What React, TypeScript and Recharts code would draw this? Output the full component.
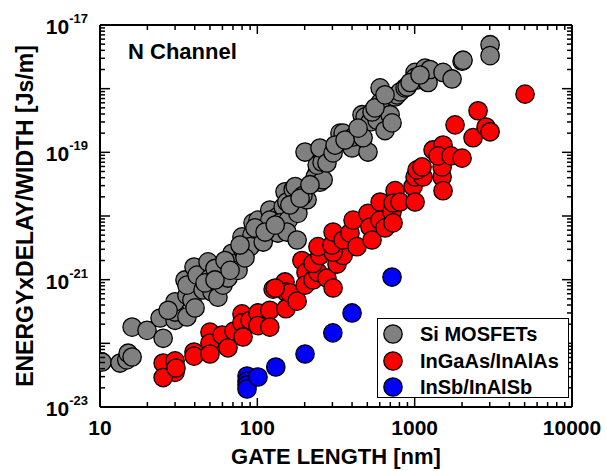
import React from 'react';
import { ScatterChart, Scatter, XAxis, YAxis, Legend, Customized } from 'recharts';

// ---- Data (gate length in nm, energy x delay / width in Js/m) ----
const siLength = [
  10.3, 13.4, 14.8, 15.1, 16.0, 16.0, 19.9, 24.1, 25.2, 30.0, 30.0, 30.0, 27.1, 34.7, 35.7, 35.7,
  38.4, 40.2, 39.6, 35.7, 41.4, 45.2, 48.6, 50.0, 51.5, 56.2, 57.9, 60.5, 65.1, 53.8, 69.0, 72.2,
  62.3, 79.9, 87.3, 81.1, 75.4, 93.9, 92.5, 101, 107, 115, 89.9, 109, 120, 133, 135, 120, 146, 139,
  157, 154, 150, 154, 169, 174, 181, 181, 207, 195, 179, 240, 250, 233, 262, 240, 258, 201, 250, 277,
  303, 335, 351, 400, 406, 463, 484, 505, 520, 470, 577, 603, 603, 648, 698, 718, 751, 773, 807, 869,
  895, 1006, 1006, 1036, 1164, 1199, 1217, 1252, 1515, 1729, 2001, 2030, 3015, 3015,
  46.5, 53.8, 67.1, 83.5, 77.6, 96.7, 112, 130, 161, 187, 216, 312, 361, 437, 536, 560, 648, 935, 1082,
];
const siEdw = [
  5.1e-23, 4.9e-23, 5.5e-23, 7.0e-23, 6.1e-23, 1.8e-22, 1.6e-22, 2.5e-22, 1.2e-22, 2.3e-22, 3.1e-22, 4.5e-22, 3.3e-22, 9.9e-22, 2.6e-22, 5.7e-22,
  4.8e-22, 3.6e-22, 1.58e-21, 8.2e-22, 1.18e-21, 6.9e-22, 1.9e-21, 1.06e-21, 6.4e-22, 5.3e-22, 1.27e-21, 8.2e-22, 1.06e-21, 1.5e-21, 2.6e-21, 1.8e-21,
  2.0e-21, 4.7e-21, 3.3e-21, 2.9e-21, 1.4e-21, 7.8e-21, 5.0e-21, 8.6e-21, 4.7e-21, 6.7e-21, 3.3e-21, 3.9e-21, 1.24e-20, 9.6e-21, 5.4e-21, 8.6e-21, 1.39e-20, 7.8e-21,
  8.6e-21, 5.6e-21, 2.4e-20, 1.66e-20, 2.6e-20, 2.9e-20, 1.39e-20, 1.1e-20, 1.8e-20, 2.1e-20, 4.2e-21, 4.9e-20, 3.4e-20, 4.1e-20, 3.7e-20, 6.3e-20, 7.0e-20, 1.01e-19, 1.17e-19, 6.8e-20,
  9.8e-20, 2.0e-19, 2.0e-19, 1.17e-19, 1.74e-19, 3.9e-19, 3.6e-19, 1.01e-19, 3.0e-19, 1.7e-19, 3.2e-19, 1.03e-18, 6.0e-19, 2.2e-19, 3.9e-19, 2.9e-19, 7.4e-19, 8.0e-19, 8.9e-19, 1.03e-18,
  1.06e-18, 1.8e-18, 1.5e-18, 1.37e-18, 2.1e-18, 1.27e-18, 1.25e-18, 2.0e-18, 1.8e-18, 1.42e-18, 2.7e-18, 2.8e-18, 4.9e-18, 3.3e-18,
  8.9e-22, 9.9e-22, 1.4e-21, 2.2e-21, 3.5e-21, 6.5e-21, 5.6e-21, 7.2e-21, 1.49e-20, 1.9e-20, 3.1e-20, 1.3e-19, 1.56e-19, 2.4e-19, 4.3e-19, 5.0e-19, 8.0e-19, 1.25e-18, 1.64e-18,
];

const ingaasLength = [
  25.2, 30.0, 30.0, 25.2, 30.4, 39.6, 39.6, 50.0, 50.0, 50.0, 59.7, 65.1, 71.1, 79.9, 79.9, 89.9,
  81.1, 101, 101, 120, 120, 126, 150, 152, 152, 161, 179, 130, 192, 204, 201, 226, 243, 226, 250, 277,
  303, 321, 351, 303, 243, 298, 303, 351, 388, 406, 430, 505, 520, 536, 603, 603, 648, 718, 729, 751,
  729, 807, 977, 1006, 1006, 1130, 1494, 1515, 1036, 1114, 1494, 1309, 1515, 1408, 1703, 2001, 1806, 2350,
  2529, 2843, 3015, 5030,
];
const ingaasEdw = [
  4.9e-23, 5.3e-23, 3.5e-23, 2.9e-23, 4.1e-23, 7.3e-23, 6.3e-23, 1.5e-22, 1.01e-22, 6.8e-23, 1.35e-22, 8.5e-23, 1.56e-22, 2.9e-22, 2.1e-22, 2.3e-22,
  1.26e-22, 3.0e-22, 1.9e-22, 3.3e-22, 1.8e-22, 7.1e-22, 9.2e-22, 6.4e-22, 3.5e-22, 6.2e-22, 4.6e-22, 7.4e-22, 2.0e-21, 1.3e-21, 8.2e-22, 9.9e-22, 1.3e-21, 1.8e-21, 2.4e-21, 1.06e-21,
  7.4e-22, 1.76e-21, 2.4e-21, 2.7e-21, 3.3e-21, 3.5e-21, 5.6e-21, 4.2e-21, 5.4e-21, 8.6e-21, 3.3e-21, 1.1e-20, 6.7e-21, 4.2e-21, 8.6e-21, 1.66e-20, 6.5e-21, 1.16e-20, 7.8e-21, 2.5e-20,
  1.6e-20, 1.66e-20, 2.9e-20, 1.66e-20, 4.1e-20, 4.1e-20, 4.1e-20, 2.5e-20, 5.3e-20, 5.9e-20, 5.9e-20, 1.09e-19, 1.3e-19, 8.8e-20, 8.8e-20, 8.1e-20, 2.7e-19, 1.7e-19,
  4.5e-19, 2.5e-19, 2.1e-19, 8.2e-19,
];

const insbLength = [86, 86, 86, 86, 101, 131, 201, 302, 400, 718];
const insbEdw = [3.07e-23, 2.56e-23, 2.22e-23, 1.92e-23, 2.96e-23, 4.25e-23, 6.8e-23, 1.46e-22, 3.0e-22, 1.1e-21];

const seriesNames = ['Si MOSFETs', 'InGaAs/InAlAs', 'InSb/InAlSb'];
const seriesColors = ['#808080', '#ff0000', '#0000ff'];

const xTicks = [
  10, 20, 30, 40, 50, 60, 70, 80, 90,
  100, 200, 300, 400, 500, 600, 700, 800, 900,
  1000, 2000, 3000, 4000, 5000, 6000, 7000, 8000, 9000, 10000,
];
const yExponents = [-23, -22, -21, -20, -19, -18];
const yTicks: number[] = [];
yExponents.forEach((e) => {
  for (let m = 1; m <= 9; m++) yTicks.push(Number(`${m}e${e}`));
});
yTicks.push(1e-17);

const toRows = (xs: number[], ys: number[]) => xs.map((len, i) => ({ len, edw: ys[i] }));
const siData = toRows(siLength, siEdw);
const ingaasData = toRows(ingaasLength, ingaasEdw);
const insbData = toRows(insbLength, insbEdw);

const FONT = "'Liberation Sans', Arial, Helvetica, sans-serif";

const isMajor = (v: number) => {
  const l = Math.log10(v);
  return Math.abs(l - Math.round(l)) < 1e-6;
};

const MAJOR = 9;
const MINOR = 5;

// Bottom axis: tick prop y is the axis line (tickSize=0, tickMargin=0)
const BottomTick = (props: any) => {
  const { x, y, payload } = props;
  const v = payload.value;
  const major = isMajor(v);
  return (
    <g>
      <line x1={x} x2={x} y1={y} y2={y - (major ? MAJOR : MINOR)} stroke="#000" strokeWidth={1.5} />
      {major && (
        <text x={x} y={y + 28} textAnchor="middle" fontSize={21} fontWeight="bold" fontFamily={FONT} fill="#000">
          {String(Math.round(v))}
        </text>
      )}
    </g>
  );
};

const TopTick = (props: any) => {
  const { x, y, payload } = props;
  const major = isMajor(payload.value);
  return <line x1={x} x2={x} y1={y} y2={y + (major ? MAJOR : MINOR)} stroke="#000" strokeWidth={1.5} />;
};

const LeftTick = (props: any) => {
  const { x, y, payload } = props;
  const v = payload.value;
  const major = isMajor(v);
  const exp = Math.round(Math.log10(v));
  const showLabel = major && Math.abs(exp) % 2 === 1;
  return (
    <g>
      <line x1={x} x2={x + (major ? 10 : MINOR)} y1={y} y2={y} stroke="#000" strokeWidth={1.5} />
      {showLabel && (
        <text x={x - 12} y={y + 9} textAnchor="end" fontSize={21} fontWeight="bold" fontFamily={FONT} fill="#000">
          <tspan>10</tspan>
          <tspan dy={-11} fontSize={13}>{String(exp)}</tspan>
        </text>
      )}
    </g>
  );
};

const RightTick = (props: any) => {
  const { x, y, payload } = props;
  const major = isMajor(payload.value);
  return <line x1={x} x2={x - (major ? 10 : MINOR)} y1={y} y2={y} stroke="#000" strokeWidth={1.5} />;
};

const dot = (color: string) => (props: any) => (
  <circle cx={props.cx} cy={props.cy} r={9.2} fill={color} stroke="#000" strokeWidth={1.3} />
);

const LegendBox = () => (
  <div
    style={{
      position: 'relative',
      width: 192,
      height: 80,
      border: '1.5px solid #000',
      boxSizing: 'border-box',
      background: '#fff',
      fontFamily: FONT,
    }}
  >
    {seriesNames.map((name, i) => (
      <div key={name} style={{ position: 'absolute', left: 0, top: 3 + i * 26.5, height: 24, width: 190 }}>
        <svg width={24} height={24} style={{ position: 'absolute', left: 3, top: 0 }}>
          <circle cx={12} cy={12} r={9.2} fill={seriesColors[i]} stroke="#000" strokeWidth={1.3} />
        </svg>
        <span
          style={{
            position: 'absolute',
            left: 42,
            top: 0,
            lineHeight: '24px',
            fontSize: 20,
            fontWeight: 'bold',
            whiteSpace: 'nowrap',
            color: '#000',
          }}
        >
          {name}
        </span>
      </div>
    ))}
  </div>
);

const Titles = () => (
  <g fontFamily={FONT} fontWeight="bold" fill="#000">
    <text x={128} y={59} fontSize={22}>N Channel</text>
    <text x={336} y={464} fontSize={22} textAnchor="middle">GATE LENGTH [nm]</text>
    <text transform="rotate(-90)" x={-216} y={33} fontSize={23} textAnchor="middle">ENERGYxDELAY/WIDTH [Js/m]</text>
  </g>
);

const axisLine = { stroke: '#000', strokeWidth: 2 };

export default function App() {
  return (
    <div style={{ position: 'absolute', left: 0, top: 0, width: 607, height: 471, background: '#fff' }}>
      <ScatterChart width={607} height={471} margin={{ top: 24, right: 34, bottom: 63, left: 99 }}>
        <XAxis
          xAxisId="b"
          dataKey="len"
          type="number"
          scale="log"
          domain={[10, 10000]}
          allowDataOverflow
          ticks={xTicks}
          interval={0}
          height={1}
          tickSize={0}
          tickMargin={0}
          tickLine={false}
          axisLine={axisLine}
          tick={<BottomTick />}
        />
        <XAxis
          xAxisId="t"
          orientation="top"
          dataKey="len"
          type="number"
          scale="log"
          domain={[10, 10000]}
          allowDataOverflow
          ticks={xTicks}
          interval={0}
          height={1}
          tickSize={0}
          tickMargin={0}
          tickLine={false}
          axisLine={axisLine}
          tick={<TopTick />}
        />
        <YAxis
          yAxisId="l"
          dataKey="edw"
          type="number"
          scale="log"
          domain={[1e-23, 1e-17]}
          allowDataOverflow
          ticks={yTicks}
          interval={0}
          width={1}
          tickSize={0}
          tickMargin={0}
          tickLine={false}
          axisLine={axisLine}
          tick={<LeftTick />}
        />
        <YAxis
          yAxisId="r"
          orientation="right"
          dataKey="edw"
          type="number"
          scale="log"
          domain={[1e-23, 1e-17]}
          allowDataOverflow
          ticks={yTicks}
          interval={0}
          width={1}
          tickSize={0}
          tickMargin={0}
          tickLine={false}
          axisLine={axisLine}
          tick={<RightTick />}
        />
        <Scatter name={seriesNames[0]} data={siData} xAxisId="b" yAxisId="l" fill={seriesColors[0]} shape={dot(seriesColors[0])} isAnimationActive={false} />
        <Scatter name={seriesNames[1]} data={ingaasData} xAxisId="b" yAxisId="l" fill={seriesColors[1]} shape={dot(seriesColors[1])} isAnimationActive={false} />
        <Scatter name={seriesNames[2]} data={insbData} xAxisId="b" yAxisId="l" fill={seriesColors[2]} shape={dot(seriesColors[2])} isAnimationActive={false} />
        <Legend
          layout="vertical"
          align="center"
          verticalAlign="middle"
          wrapperStyle={{ position: 'absolute', left: 377, top: 318, width: 192, height: 80 }}
          content={() => <LegendBox />}
        />
        <Customized component={<Titles />} />
      </ScatterChart>
    </div>
  );
}
